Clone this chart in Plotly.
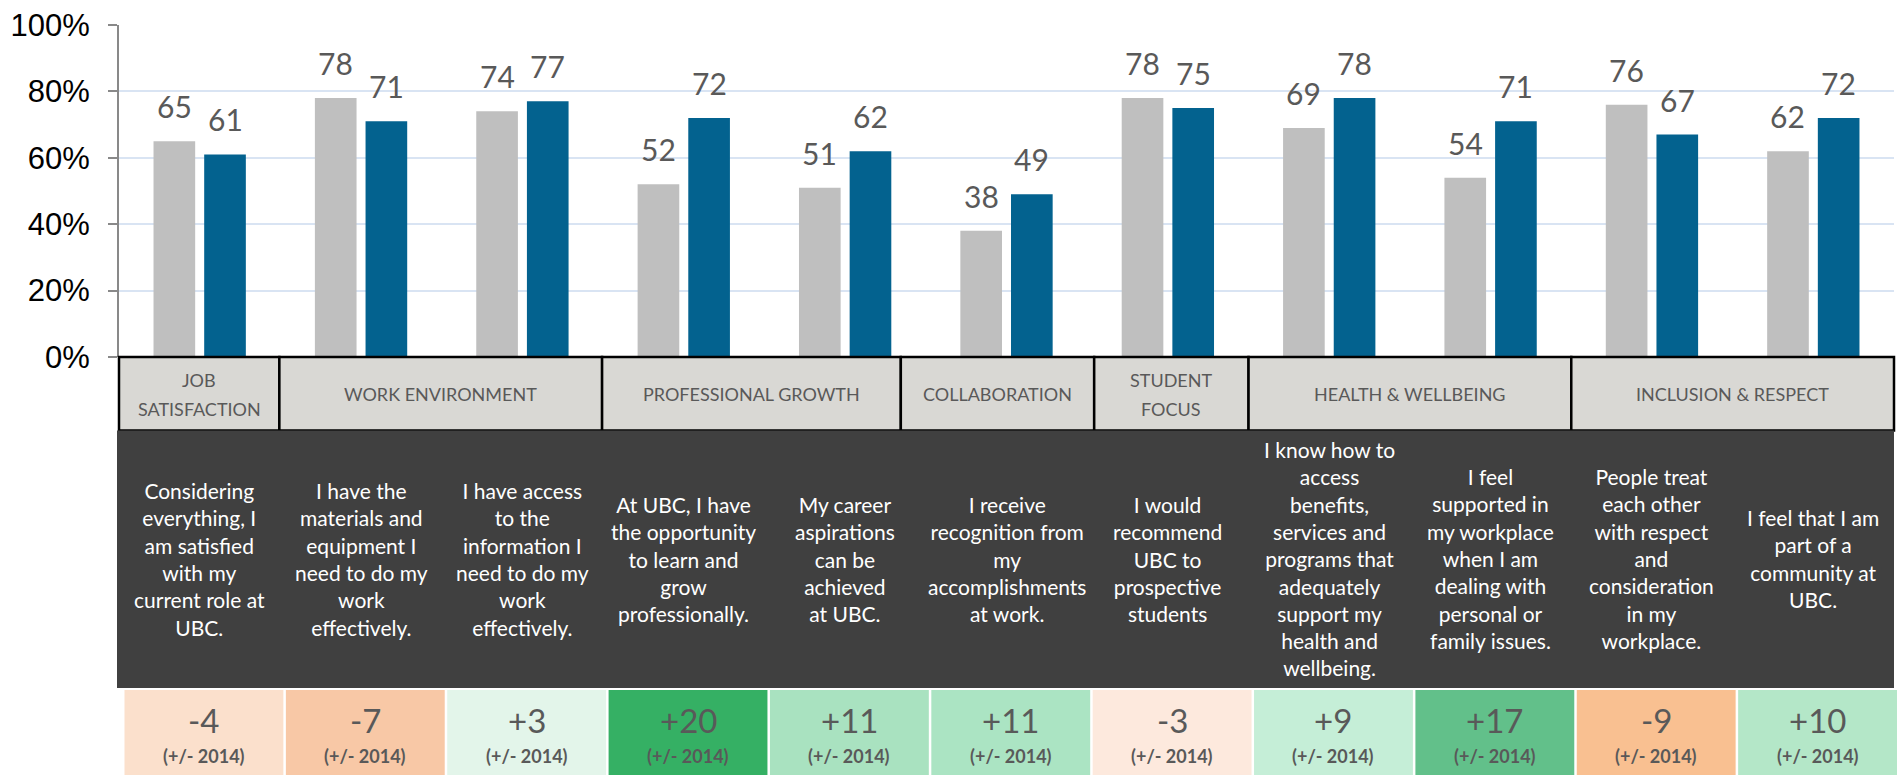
import plotly.graph_objects as go

# ---------------- data ----------------
statements = [
    "Considering<br>everything, I<br>am satisfied<br>with my<br>current role at<br>UBC.",
    "I have the<br>materials and<br>equipment I<br>need to do my<br>work<br>effectively.",
    "I have access<br>to the<br>information I<br>need to do my<br>work<br>effectively.",
    "At UBC, I have<br>the opportunity<br>to learn and<br>grow<br>professionally.",
    "My career<br>aspirations<br>can be<br>achieved<br>at UBC.",
    "I receive<br>recognition from<br>my<br>accomplishments<br>at work.",
    "I would<br>recommend<br>UBC to<br>prospective<br>students",
    "I know how to<br>access<br>benefits,<br>services and<br>programs that<br>adequately<br>support my<br>health and<br>wellbeing.",
    "I feel<br>supported in<br>my workplace<br>when I am<br>dealing with<br>personal or<br>family issues.",
    "People treat<br>each other<br>with respect<br>and<br>consideration<br>in my<br>workplace.",
    "I feel that I am<br>part of a<br>community at<br>UBC.",
]
group_labels = ["JOB<br>SATISFACTION", "WORK ENVIRONMENT", "PROFESSIONAL GROWTH",
                "COLLABORATION", "STUDENT<br>FOCUS", "HEALTH & WELLBEING",
                "INCLUSION & RESPECT"]
group_sizes = [1, 2, 2, 1, 1, 2, 2]
values_2014 = [65, 78, 74, 52, 51, 38, 78, 69, 54, 76, 62]
values_2017 = [61, 71, 77, 72, 62, 49, 75, 78, 71, 67, 72]
change_vs_2014 = [-4, -7, 3, 20, 11, 11, -3, 9, 17, -9, 10]
change_note = "(+/- 2014)"
y_ticks = [0, 20, 40, 60, 80, 100]

# ---------------- styles / layout ----------------
GRAY = "#bfbfbf"
BLUE = "#03628f"
LABEL_COLOR = "#595959"
HEADER_FILL = "#d9d8d4"
PANEL_FILL = "#404040"
GRID = "#d9e4f3"
change_fills = ["#fbe0cc", "#f8c8a6", "#e3f5ea", "#35b064", "#a9e2c0", "#abe4c3",
                "#fde9dd", "#c5eed7", "#62c08a", "#f9c091", "#b4e7c8"]
FONT = "Lato"
# small pixel nudges of the header-box edges (as drawn in the original layout)
HEADER_EDGE_NUDGE = [0, -1, -1, -25, 7, 0, 0, 0]

W_FIG, H_FIG = 1902, 775
ML, MR, MT, MB = 119, 8, 23, 418
PW = W_FIG - ML - MR
PH = H_FIG - MT - MB
Y0 = MT + PH  # pixel row of 0%
N = len(statements)
COL = PW / N


def px(xp):
    return (xp - ML) / PW


def py(yp):
    return (Y0 - yp) / PH


def col_left(k):
    return ML + k * COL


fig = go.Figure()
fig.add_trace(go.Bar(x=statements, y=values_2014, name="2014", marker_color=GRAY,
                     marker_line_width=0))
fig.add_trace(go.Bar(x=statements, y=values_2017, name="2017", marker_color=BLUE,
                     marker_line_width=0))

annotations = []
shapes = []

# value labels above bars
slot = COL * (1 - 0.372) / 2
for vals, sh in ((values_2014, -slot / 2), (values_2017, slot / 2)):
    for cat, v in zip(statements, vals):
        annotations.append(dict(x=cat, y=v, xref="x", yref="y", text=str(v),
                                showarrow=False, xanchor="center", yanchor="bottom",
                                xshift=sh, yshift=15,
                                font=dict(family=FONT, size=30, color=LABEL_COLOR)))

# group header boxes
edges = [0]
for n in group_sizes:
    edges.append(edges[-1] + n)
edge_px = [col_left(e) + d for e, d in zip(edges, HEADER_EDGE_NUDGE)]
for i, lab in enumerate(group_labels):
    x0, x1 = edge_px[i], edge_px[i + 1]
    shapes.append(dict(type="rect", xref="paper", yref="paper",
                       x0=px(x0), x1=px(x1), y0=py(357), y1=py(431),
                       fillcolor=HEADER_FILL, line=dict(color="black", width=2.5)))
    lines = lab.split("<br>")
    centers = [394] if len(lines) == 1 else [380, 409]
    for t, c in zip(lines, centers):
        annotations.append(dict(x=px((x0 + x1) / 2), y=py(c), xref="paper", yref="paper",
                                text=t, showarrow=False, xanchor="center", yanchor="middle",
                                font=dict(family=FONT, size=18, color=LABEL_COLOR)))

# dark statement panel
shapes.append(dict(type="rect", xref="paper", yref="paper", x0=px(117), x1=px(1894),
                   y0=py(431), y1=py(690), fillcolor=PANEL_FILL, line=dict(width=0)))
for k, s in enumerate(statements):
    annotations.append(dict(x=px(col_left(k) + COL / 2), y=py(560), xref="paper", yref="paper",
                            text=s, showarrow=False, xanchor="center", yanchor="middle",
                            font=dict(family=FONT, size=21, color="white")))

# change boxes
for k, (d, fc) in enumerate(zip(change_vs_2014, change_fills)):
    x0, x1 = col_left(k) + 5.5, col_left(k + 1) + 3
    shapes.append(dict(type="rect", xref="paper", yref="paper", x0=px(x0), x1=px(x1),
                       y0=py(692), y1=py(790), fillcolor=fc, line=dict(width=0)))
    cx = px((x0 + x1) / 2)
    annotations.append(dict(x=cx, y=py(722), xref="paper", yref="paper", text=f"{d:+d}",
                            showarrow=False, xanchor="center", yanchor="middle",
                            font=dict(family=FONT, size=33, color=LABEL_COLOR)))
    annotations.append(dict(x=cx, y=py(758), xref="paper", yref="paper",
                            text=f"<b>{change_note}</b>", showarrow=False,
                            xanchor="center", yanchor="middle",
                            font=dict(family=FONT, size=18, color=LABEL_COLOR)))

fig.update_layout(
    width=W_FIG, height=H_FIG,
    margin=dict(l=ML, r=MR, t=MT, b=MB, pad=0),
    paper_bgcolor="white", plot_bgcolor="white",
    barmode="group", bargap=0.372, bargroupgap=0.178,
    showlegend=False,
    shapes=shapes, annotations=annotations,
    xaxis=dict(showticklabels=False, showgrid=False, zeroline=False, showline=False,
               ticks="", fixedrange=True),
    yaxis=dict(range=[0, 100], tickvals=y_ticks, ticktext=[f"{t}%" for t in y_ticks],
               showgrid=True, gridcolor=GRID, gridwidth=1.5, zeroline=False,
               showline=True, linecolor="#898989", linewidth=2,
               ticks="outside", ticklen=9, tickcolor="#898989", tickwidth=1.5,
               ticklabelstandoff=12,
               tickfont=dict(family="Liberation Sans", size=31, color="black")),
)

fig.write_html("out.html", config={"displayModeBar": False},
               post_script="document.body.style.margin='0';document.body.style.overflow='hidden';")
